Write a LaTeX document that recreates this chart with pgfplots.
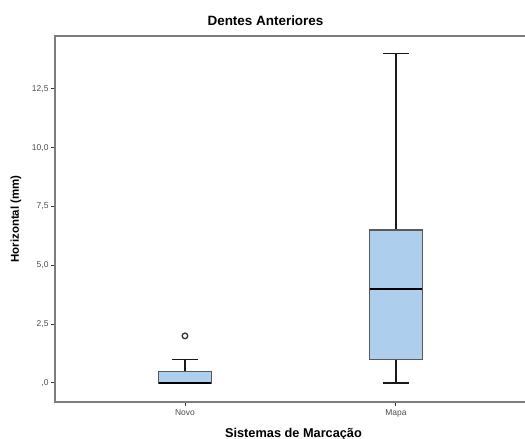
\documentclass[border=0pt]{standalone}
\usepackage{pgfplots}
\pgfplotsset{compat=1.18}
\usepgfplotslibrary{statistics}
\usepackage{fontspec}
\setmainfont{Liberation Sans}
\definecolor{boxfill}{RGB}{173,206,236}
\definecolor{framec}{RGB}{125,125,125}
\begin{document}
\begin{tikzpicture}
\path[use as bounding box] (-55bp,-37bp) rectangle (470bp,402bp);
\begin{axis}[
  at={(0,0)}, anchor=south west,
  scale only axis, width=477bp, height=366bp,
  xmin=0.384, xmax=2.645, ymin=-0.81, ymax=14.75,
  axis line style={framec, line width=1.5pt},
  xtick={1,2}, xticklabels={Novo,Mapa},
  ytick={0,2.5,5,7.5,10,12.5},
  yticklabels={{,0},{2,5},{5,0},{7,5},{10,0},{12,5}},
  tick align=outside, major tick length=4bp,
  tick style={black!80, line width=0.9pt},
  xtick pos=bottom, ytick pos=left,
  ticklabel style={font=\fontsize{8.5}{9}\selectfont, text=black!70},
  yticklabel style={xshift=1bp},
  title={\textbf{Dentes Anteriores}},
  title style={font=\fontsize{13.5}{15}\selectfont, yshift=1bp, xshift=-28bp},
  xlabel={\textbf{Sistemas de Marcação}},
  ylabel={\textbf{Horizontal (mm)}},
  xlabel style={font=\fontsize{12.8}{14}\selectfont, yshift=-4bp},
  ylabel style={font=\fontsize{11.5}{13}\selectfont, yshift=4bp},
  boxplot/draw direction=y,
  boxplot/box extend=0.25,
  boxplot/whisker extend=0.125,
]
\addplot+[boxplot prepared={draw position=1, lower whisker=0, lower quartile=0, median=0, upper quartile=0.5, upper whisker=1,
   every box/.style={draw=black!65, fill=boxfill, line width=1.2pt},
   every whisker/.style={black!90, line width=1.4pt},
   every median/.style={black, line width=2pt}},
   mark=o, mark size=2.8pt, mark options={black!80, line width=1.3pt}, color=black, solid]
 coordinates {(0,2)};
\addplot+[boxplot prepared={draw position=2, lower whisker=0, lower quartile=1, median=4, upper quartile=6.5, upper whisker=14,
   every box/.style={draw=black!65, fill=boxfill, line width=1.2pt},
   every whisker/.style={black!90, line width=1.4pt},
   every median/.style={black, line width=2pt}},
   color=black, solid]
 coordinates {};
\end{axis}
\end{tikzpicture}
\end{document}
